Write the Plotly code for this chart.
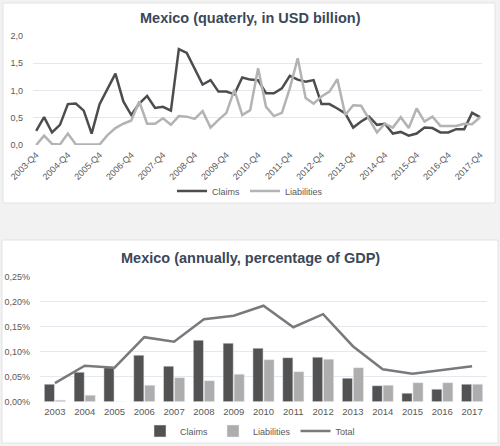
import plotly.graph_objects as go

# ---------------- data ----------------
quarters = [f"{y}-Q{q}" for y in range(2003, 2018) for q in range(1, 5)][3:]  # 2003-Q4 .. 2017-Q4
claims_q = [0.26, 0.51, 0.23, 0.37, 0.75, 0.76, 0.63, 0.21, 0.75, 1.02,
            1.31, 0.80, 0.55, 0.76, 0.90, 0.68, 0.70, 0.63, 1.76, 1.69,
            1.41, 1.11, 1.19, 0.98, 0.98, 0.93, 1.24, 1.20, 1.19, 0.95,
            0.95, 1.04, 1.27, 1.20, 1.16, 1.19, 0.75, 0.75, 0.67, 0.58,
            0.32, 0.43, 0.52, 0.37, 0.39, 0.21, 0.24, 0.17, 0.21, 0.32,
            0.31, 0.23, 0.23, 0.29, 0.29, 0.59, 0.51]
liab_q = [0.00, 0.17, 0.02, 0.01, 0.21, 0.01, 0.01, 0.01, 0.01, 0.18,
          0.31, 0.39, 0.45, 0.80, 0.39, 0.39, 0.49, 0.37, 0.53, 0.52,
          0.48, 0.62, 0.32, 0.46, 0.59, 1.01, 0.55, 0.64, 1.41, 0.70,
          0.53, 0.59, 1.04, 1.59, 0.86, 0.76, 0.89, 0.98, 1.21, 0.55,
          0.73, 0.72, 0.47, 0.23, 0.39, 0.32, 0.51, 0.31, 0.67, 0.43,
          0.52, 0.35, 0.35, 0.35, 0.39, 0.38, 0.51]
q_ticks = [f"{y}-Q4" for y in range(2003, 2018)]

years = [str(y) for y in range(2003, 2018)]
claims_a = [0.035, 0.059, 0.068, 0.093, 0.071, 0.123, 0.117, 0.107, 0.088,
            0.089, 0.047, 0.032, 0.017, 0.025, 0.035]
liab_a = [0.003, 0.013, 0.0, 0.033, 0.048, 0.042, 0.055, 0.084, 0.060,
          0.085, 0.068, 0.033, 0.038, 0.038, 0.035]
total_a = [0.037, 0.072, 0.068, 0.129, 0.120, 0.165, 0.172, 0.192, 0.149,
           0.175, 0.111, 0.065, 0.056, 0.063, 0.071]

W, H = 500, 446
def px(x): return x / W
def py(y): return 1 - y / H

DARK = "#4d4d4d"
LIGHT = "#b3b3b3"
TOTAL = "#7a7a7a"
FONT = "Liberation Sans, Arial, sans-serif"
TICK = dict(family=FONT, size=9, color="#595959")

fig = go.Figure()

fig.add_trace(go.Scatter(x=quarters, y=claims_q, mode="lines", name="Claims",
                         line=dict(color=DARK, width=2.5), xaxis="x", yaxis="y",
                         legend="legend"))
fig.add_trace(go.Scatter(x=quarters, y=liab_q, mode="lines", name="Liabilities",
                         line=dict(color=LIGHT, width=2.5), xaxis="x", yaxis="y",
                         legend="legend"))

fig.add_trace(go.Bar(x=years, y=claims_a, name="Claims", marker=dict(color="#525252"),
                     xaxis="x2", yaxis="y2", legend="legend2"))
fig.add_trace(go.Bar(x=years, y=liab_a, name="Liabilities", marker=dict(color="#adadad"),
                     xaxis="x2", yaxis="y2", legend="legend2"))
fig.add_trace(go.Scatter(x=years, y=total_a, mode="lines", name="Total",
                         line=dict(color=TOTAL, width=2.5), xaxis="x2", yaxis="y2",
                         legend="legend2"))

shapes = [
    dict(type="rect", xref="paper", yref="paper", x0=px(3), x1=px(495), y0=py(203), y1=py(3),
         fillcolor="white", line=dict(color="#e3e3e3", width=1), layer="below"),
    dict(type="rect", xref="paper", yref="paper", x0=px(2), x1=px(498), y0=py(443), y1=py(240),
         fillcolor="white", line=dict(color="#e3e3e3", width=1), layer="below"),
]

annotations = [
    dict(text="<b>Mexico (quaterly, in USD billion)</b>", xref="paper", yref="paper",
         x=px(250), y=py(18), showarrow=False, xanchor="center", yanchor="middle",
         font=dict(family=FONT, size=14.5, color="#3b4859")),
    dict(text="<b>Mexico (annually, percentage of GDP)</b>", xref="paper", yref="paper",
         x=px(250), y=py(258), showarrow=False, xanchor="center", yanchor="middle",
         font=dict(family=FONT, size=14.5, color="#3b4859")),
]

fig.update_layout(
    width=W, height=H, autosize=False,
    margin=dict(l=0, r=0, t=0, b=0, pad=0, autoexpand=False),
    paper_bgcolor="#f2f2f2", plot_bgcolor="rgba(0,0,0,0)",
    separators=",.",
    shapes=shapes, annotations=annotations,
    barmode="group", bargap=0.26, bargroupgap=0.08,
    xaxis=dict(domain=[px(33), px(482)], type="category", categoryorder="array",
               categoryarray=quarters, tickvals=q_ticks, ticktext=q_ticks,
               range=[-0.4, 56.25], tickangle=-45, tickfont=TICK, showgrid=False,
               showline=False, ticks="", anchor="y", automargin=False,
               ticklabelstandoff=2),
    yaxis=dict(domain=[py(145), py(36)], range=[0, 2.0], dtick=0.5, tickformat=".1f",
               tickfont=TICK, gridcolor="#e4e8ef", gridwidth=1, zeroline=False,
               showline=False, anchor="x", ticklabelstandoff=9, automargin=False),
    xaxis2=dict(domain=[px(40), px(487)], type="category",
                tickfont=dict(family=FONT, size=9.5, color="#595959"),
                showgrid=False, showline=False, ticks="", anchor="y2", automargin=False,
                ticklabelstandoff=3),
    yaxis2=dict(domain=[py(401.7), py(276.7)], range=[0, 0.25], dtick=0.05,
                tickformat=".2f", ticksuffix="%", tickfont=TICK, gridcolor="#e4e8ef",
                zeroline=False, showline=False, anchor="x2", ticklabelstandoff=9,
                automargin=False),
    legend=dict(orientation="h", x=0.5, xanchor="center", y=py(191), yanchor="middle",
                font=dict(family=FONT, size=9, color="#595959"), bgcolor="rgba(0,0,0,0)",
                itemwidth=30, tracegroupgap=0),
    legend2=dict(orientation="h", x=0.5, xanchor="center", y=py(431), yanchor="middle",
                 font=dict(family=FONT, size=9, color="#595959"), bgcolor="rgba(0,0,0,0)",
                 itemwidth=30, tracegroupgap=0),
)

fig.write_html("out.html", config={"responsive": False, "displayModeBar": False},
               post_script="document.body.style.margin='0';document.body.style.overflow='hidden';")
